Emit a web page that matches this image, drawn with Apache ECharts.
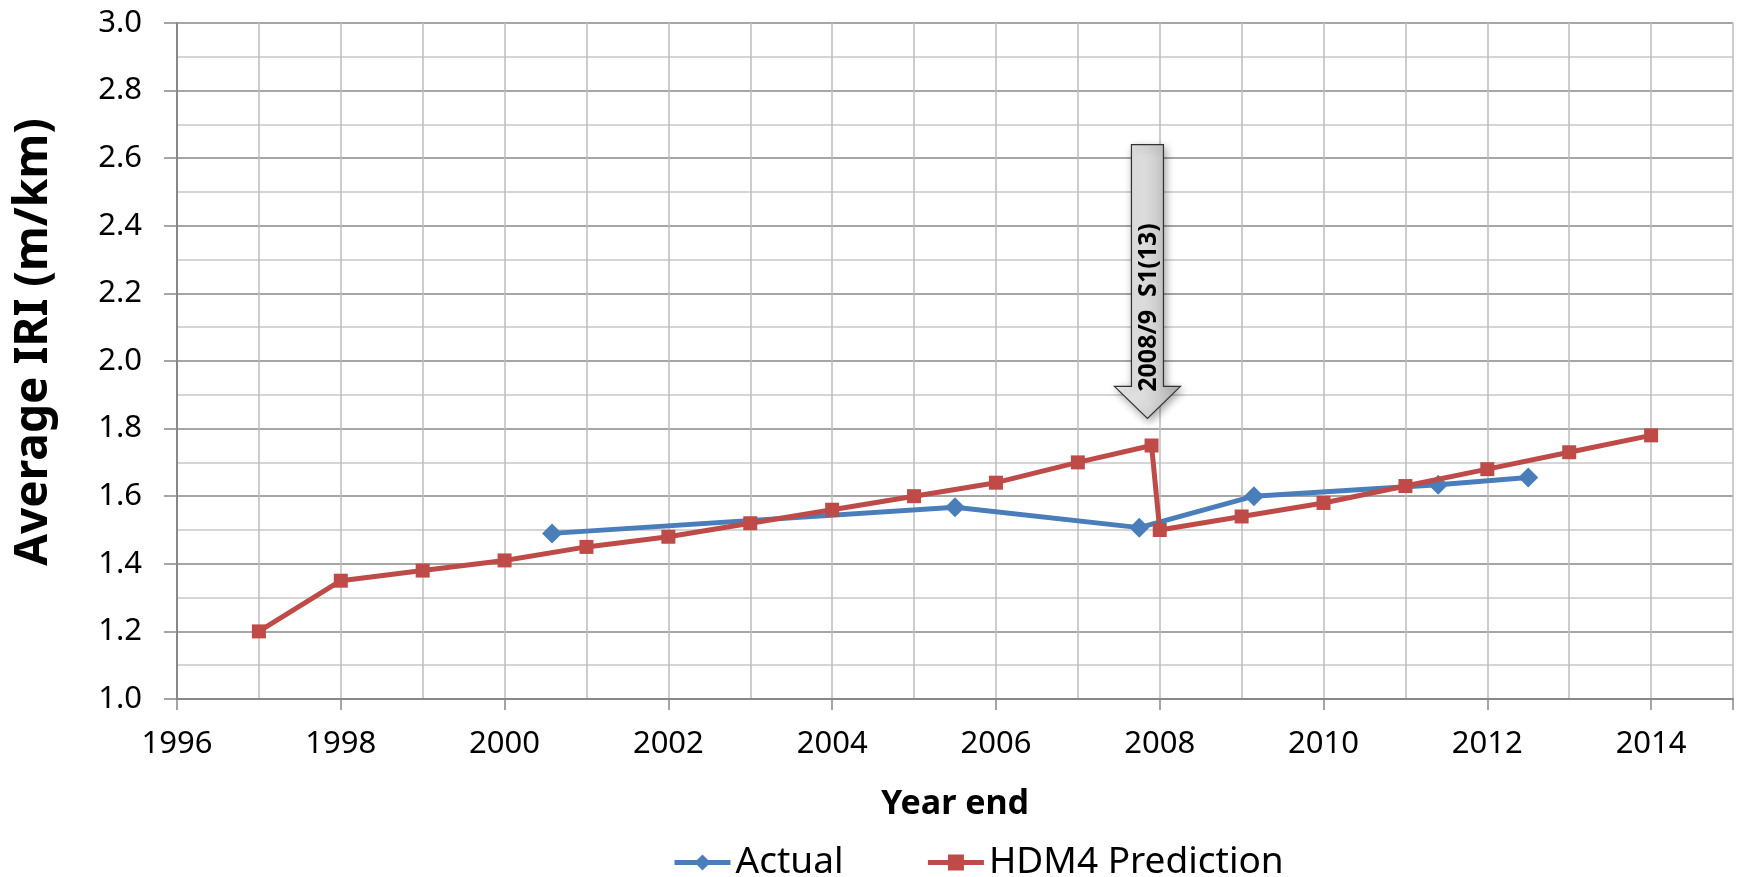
<!DOCTYPE html>
<html><head><meta charset="utf-8">
<script src="https://cdn.jsdelivr.net/npm/echarts@6/dist/echarts.min.js"></script>
<style>html,body{margin:0;padding:0;background:#fff}#c{width:1739px;height:877px}</style>
</head><body><div id="c"></div>
<script>
const actualX = [2000.58, 2005.5, 2007.75, 2009.15, 2011.4, 2012.5];
const actualY = [1.49, 1.567, 1.507, 1.60, 1.634, 1.655];
const hdmX = [1997, 1998, 1999, 2000, 2001, 2002, 2003, 2004, 2005, 2006, 2007, 2007.9, 2008, 2009, 2010, 2011, 2012, 2013, 2014];
const hdmY = [1.20, 1.35, 1.38, 1.41, 1.45, 1.48, 1.52, 1.56, 1.60, 1.64, 1.70, 1.75, 1.50, 1.54, 1.58, 1.63, 1.68, 1.73, 1.78];
const annotation = {x: 2007.85, top: 2.64, tip: 1.83, headBase: 1.925, text: '2008/9  S1(13)'};
const yTitle = 'Average IRI (m/km)';
const xTitle = 'Year end';

const FONT = "'Noto Sans',sans-serif";
const chart = echarts.init(document.getElementById('c'));
chart.setOption({
  animation: false,
  grid: {left: 177, right: 6, top: 23, bottom: 178},
  legend: {
    top: 839, left: 667, itemWidth: 56, itemHeight: 20, itemGap: 82,
    lineStyle: {width: 5},
    textStyle: {fontFamily: FONT, fontSize: 37, color: '#000'},
    data: [
      {name: 'Actual', lineStyle: {width: 5, color: '#4a7ebb'}},
      {name: 'HDM4 Prediction', lineStyle: {width: 5, color: '#be4b48'}}
    ]
  },
  xAxis: {
    type: 'value', min: 1996, max: 2015, interval: 2,
    name: xTitle, nameLocation: 'middle', nameGap: 88,
    nameTextStyle: {fontFamily: FONT, fontSize: 34, fontWeight: 'bold', color: '#000'},
    axisLine: {show: true, lineStyle: {color: '#888', width: 2}},
    axisTick: {show: true, length: 11, lineStyle: {color: '#888', width: 1.5}},
    axisLabel: {fontFamily: FONT, fontSize: 31, color: '#000', margin: 30,
      formatter: v => v <= 2014 ? String(v) : ''},
    splitLine: {show: true, lineStyle: {color: '#bdbdbd', width: 1.5}},
    minorTick: {show: false, splitNumber: 2},
    minorSplitLine: {show: true, lineStyle: {color: '#bdbdbd', width: 1.5}}
  },
  yAxis: {
    type: 'value', min: 1.0, max: 3.0, interval: 0.2,
    axisLine: {show: true, lineStyle: {color: '#888', width: 2}},
    axisTick: {show: true, length: 13, lineStyle: {color: '#888', width: 1.5}},
    axisLabel: {fontFamily: FONT, fontSize: 31, color: '#000', margin: 35,
      formatter: v => v.toFixed(1)},
    splitLine: {show: true, lineStyle: {color: '#a6a6a6', width: 2}},
    minorTick: {show: false, splitNumber: 2},
    minorSplitLine: {show: true, lineStyle: {color: '#c8c8c8', width: 1.5}}
  },
  series: [
    {name: 'Actual', type: 'line', data: actualX.map((x, i) => [x, actualY[i]]),
     symbol: 'diamond', symbolSize: 20,
     lineStyle: {color: '#4a7ebb', width: 5}, itemStyle: {color: '#4a7ebb'}, z: 3},
    {name: 'HDM4 Prediction', type: 'line', data: hdmX.map((x, i) => [x, hdmY[i]]),
     symbol: 'rect', symbolSize: 14,
     lineStyle: {color: '#be4b48', width: 5}, itemStyle: {color: '#be4b48'}, z: 4}
  ]
});

function drawArrow() {
  const t = chart.convertToPixel({gridIndex: 0}, [annotation.x, annotation.top]);
  const b = chart.convertToPixel({gridIndex: 0}, [annotation.x, annotation.headBase]);
  const tip = chart.convertToPixel({gridIndex: 0}, [annotation.x, annotation.tip]);
  const cx = t[0], sw = 16, hw = 33;
  const pts = [[cx - sw, t[1]], [cx + sw, t[1]], [cx + sw, b[1]], [cx + hw, b[1]],
               [cx, tip[1]], [cx - hw, b[1]], [cx - sw, b[1]]];
  chart.setOption({graphic: [
    {type: 'polygon', z: 100, shape: {points: pts},
     style: {fill: new echarts.graphic.LinearGradient(0, 0, 1, 0, [
        {offset: 0, color: '#f2f2f2'}, {offset: 0.5, color: '#d9d9d9'}, {offset: 1, color: '#b3b3b3'}]),
       stroke: '#333', lineWidth: 1.2, shadowBlur: 8, shadowColor: 'rgba(0,0,0,0.35)', shadowOffsetX: 2, shadowOffsetY: 3}},
    {type: 'text', z: 101, x: cx + 1, y: (t[1] + b[1]) / 2 + 42, rotation: Math.PI / 2,
     style: {text: annotation.text, fontFamily: FONT, fontSize: 25, fontWeight: 'bold',
       fill: '#000', align: 'center', verticalAlign: 'middle'}},
    {type: 'text', x: 34, y: 342, rotation: Math.PI / 2,
     style: {text: yTitle, fontFamily: FONT, fontSize: 46, fontWeight: 'bold',
       fill: '#000', align: 'center', verticalAlign: 'middle'}}
  ]});
}
drawArrow();
</script></body></html>
